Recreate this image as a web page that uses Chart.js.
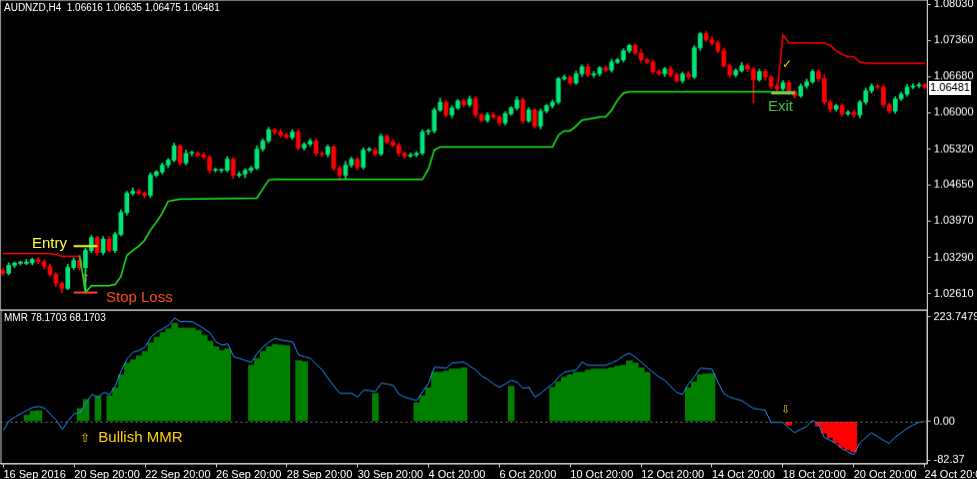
<!DOCTYPE html>
<html><head><meta charset="utf-8">
<script src="https://cdn.jsdelivr.net/npm/chart.js@4.4.1/dist/chart.umd.min.js"></script>
<style>
html,body{margin:0;padding:0;background:#000;width:977px;height:479px;overflow:hidden;font-family:"Liberation Sans",Arial,sans-serif;position:relative}
canvas{position:absolute;left:0}
.t{position:absolute;white-space:nowrap;line-height:1}
</style></head><body>
<canvas id="top" width="977" height="309" style="top:0"></canvas>
<canvas id="bot" width="977" height="170" style="top:309px"></canvas>
<div class="t" style="left:4px;top:3px;color:#fff;font-size:10px">AUDNZD,H4&nbsp; 1.06616 1.06635 1.06475 1.06481</div>
<div class="t" style="left:4px;top:313px;color:#fff;font-size:10px">MMR 78.1703 68.1703</div>
<div class="t" style="left:32px;top:235px;color:#ffff33;font-size:15px">Entry</div>
<div class="t" style="left:106px;top:289px;color:#ff4a1c;font-size:15px">Stop Loss</div>
<div class="t" style="left:80px;top:272px;color:#d4a017;font-size:12px">⇧</div>
<div class="t" style="left:768px;top:98px;color:#3fbf3f;font-size:15px">Exit</div>
<div class="t" style="left:782px;top:58px;color:#ffcc00;font-size:12px">✓</div>
<div class="t" style="left:80px;top:429px;color:#ffd000;font-size:15px"><span style="font-size:12px">⇧</span>&nbsp; Bullish MMR</div>
<div class="t" style="left:781px;top:404px;color:#e0d000;font-size:11px">⇩</div>
<div class="t" style="left:929px;top:81px;width:42px;height:13px;background:#fff;color:#000;font-size:11px;padding-top:1px;text-align:center;z-index:2">1.06481</div>
<script>
const close=[1.0299,1.0314,1.0318,1.0318,1.0319,1.0325,1.0321,1.0312,1.0297,1.0280,
1.0271,1.0310,1.0323,1.0310,1.0342,1.0366,1.0338,1.0363,1.0342,1.0372,
1.0413,1.0449,1.0453,1.0449,1.0445,1.0483,1.0489,1.0502,1.0511,1.0538,
1.0506,1.0524,1.0524,1.0521,1.0517,1.0492,1.0492,1.0492,1.0513,1.0483,
1.0485,1.0492,1.0496,1.0532,1.0547,1.0568,1.0564,1.0558,1.0554,1.0564,
1.0534,1.0541,1.0547,1.0524,1.0522,1.0536,1.0496,1.0483,1.0502,1.0513,
1.0498,1.0530,1.0530,1.0523,1.0556,1.0545,1.0539,1.0524,1.0519,1.0521,
1.0524,1.0564,1.0566,1.0605,1.0620,1.0596,1.0609,1.0622,1.0615,1.0626,
1.0596,1.0586,1.0596,1.0592,1.0581,1.0598,1.0609,1.0624,1.0585,1.0605,
1.0575,1.0603,1.0613,1.0620,1.0664,1.0667,1.0656,1.0673,1.0686,1.0671,
1.0673,1.0684,1.0680,1.0695,1.0699,1.0716,1.0726,1.0712,1.0699,1.0695,
1.0677,1.0673,1.0682,1.0671,1.0660,1.0673,1.0667,1.0722,1.0748,1.0737,
1.0731,1.0716,1.0688,1.0671,1.0679,1.0688,1.0682,1.0662,1.0677,1.0667,
1.0650,1.0645,1.0656,1.0639,1.0632,1.0650,1.0658,1.0677,1.0664,1.0620,
1.0607,1.0613,1.0598,1.0601,1.0596,1.0620,1.0641,1.0650,1.0648,1.0615,
1.0603,1.0626,1.0635,1.0648,1.0650,1.0652,1.0648];
const hiPips=[4,5,3,4,6,3,4,3,4,3, 3,6,5,6,4,4,3,5,6,4, 5,4,6,4,3,4,3,4,3,5, 2,6,4,3,5,3,4,3,5,3, 4,3,4,6,4,5,3,5,4,4, 5,3,4,5,3,4,3,4,7,4, 3,4,5,4,4,3,5,4,3,4, 3,4,3,4,8,3,4,3,4,5, 4,3,4,5,3,4,3,6,4,5, 3,4,3,4,3,4,3,5,4,5, 4,3,4,5,3,4,3,4,7,3, 4,4,3,5,4,3,4,4,3,5, 6,4,5,3,4,6,4,3,5,4, 3,5,4,4,3,4,5,4,4,7, 4,3,4,3,4,3,5,4,3,5, 3,4,3,5,4,4,3];
const loPips=[4,3,4,3,3,4,3,4,3,6, 8,3,4,5,48,4,5,4,3,4, 3,5,4,3,4,4,3,4,5,3, 4,4,5,4,3,5,3,4,3,6, 4,7,4,3,4,3,5,4,3,4, 4,4,3,5,4,5,4,10,6,4, 5,4,3,4,3,4,3,5,4,3, 4,3,5,4,3,4,5,3,4,4, 5,3,4,3,5,4,3,4,5,3, 4,5,3,4,4,3,4,3,5,4, 5,4,3,4,3,4,4,3,4,3, 4,3,5,4,3,4,4,3,5,3, 4,4,3,5,4,3,5,44,3,6, 5,4,3,5,4,3,4,3,5,4, 6,4,4,3,4,5,4,4,3,5, 4,4,3,4,3,3,3];
const upperLine=[1.0336,1.0336,1.0336,1.0336,1.0336,1.0336,1.0336,1.0336,1.0336,1.0334,1.0331,1.0331,1.0331,1.0331];
const upperLine2=[[131,1.0639],[132,1.0746],[133,1.0731],[134,1.0731],[135,1.0731],[136,1.0731],[137,1.0731],[138,1.0731],[139,1.0731],[140,1.0726],[141,1.0716],[142,1.0709],[143,1.0705],[144,1.0705],[145,1.0695],[146,1.0693],[147,1.0693],[148,1.0693],[149,1.0693],[150,1.0693],[151,1.0693],[152,1.0693],[153,1.0693],[154,1.0693],[155,1.0693],[156,1.0693]];
const lowerLine=[[13,1.0333],[14,1.0263],[15,1.0276],[16,1.0276],[17,1.0276],[18,1.0276],[19,1.0278],[20,1.0293],[21,1.0333],[22,1.0342],[23,1.0350],[24,1.0361],[25,1.0380],[26,1.0395],[27,1.0412],[28,1.0434],[29,1.0436],[30,1.0438],[43,1.0440],[44,1.0457],[45,1.0474],[46,1.0475],[71,1.0475],[72,1.0494],[73,1.0530],[74,1.0536],[93,1.0536],[94,1.0558],[95,1.0566],[96,1.0566],[97,1.0575],[98,1.0586],[99,1.0588],[100,1.0590],[101,1.0592],[102,1.0592],[103,1.0605],[104,1.0624],[105,1.0637],[106,1.0639],[134,1.0639]];
const mmrLine=[-19,2,10,17,24,30,32,28,15,2, -17,2,17,19,40,58,52,62,58,77, 110,135,148,152,159,181,191,198,206,221, 213,214,213,206,198,189,170,163,166,138, 135,130,127,146,160,170,178,174,172,170, 142,138,135,122,110,92,75,60,60,60, 52,67,66,64,82,80,77,58,52,48, 45,64,82,116,115,114,125,126,127,118, 110,97,90,80,73,80,88,84,71,73, 52,60,71,80,95,105,108,110,127,120, 120,120,120,125,131,140,146,138,127,116, 105,95,88,75,62,58,80,95,114,113, 112,84,60,52,48,45,36,28,26,24, -2,-2,-2,-14,-24,-17,-11,2,-4,-34, -40,-47,-58,-65,-71,-47,-35,-24,-32,-40, -47,-34,-25,-15,-8,-2,0];
const histBull=[[4,13],[5,22],[6,23],[13,28],[14,47],[16,54],[18,55],[19,72],[20,100],[21,125],[22,132],[23,140],[24,150],[25,168],[26,180],[27,190],[28,198],[29,210],[30,200],[31,200],[32,200],[33,195],[34,185],[35,172],[36,160],[37,152],[38,155],[42,120],[43,135],[44,150],[45,160],[46,165],[47,163],[48,162],[50,130],[51,128],[63,60],[70,40],[71,55],[72,72],[73,105],[74,105],[75,108],[76,112],[77,112],[78,115],[86,75],[93,73],[94,85],[95,95],[96,100],[97,105],[98,105],[99,110],[100,112],[101,112],[102,112],[103,115],[104,118],[105,120],[106,130],[107,125],[108,115],[109,105],[116,72],[117,85],[118,100],[119,102],[120,102]];
const histBear=[[133,-8],[138,-10],[139,-25],[140,-35],[141,-45],[142,-55],[143,-60],[144,-65]];
const dateLabels=["16 Sep 2016","20 Sep 20:00","22 Sep 20:00","26 Sep 20:00","28 Sep 20:00","30 Sep 20:00","4 Oct 20:00","6 Oct 20:00","10 Oct 20:00","12 Oct 20:00","14 Oct 20:00","18 Oct 20:00","20 Oct 20:00","24 Oct 20:00"];
const priceTicks=[1.08030,1.07360,1.06680,1.06000,1.05320,1.04650,1.03970,1.03290,1.02610];
const mmrTicks=[223.7479,0,-82.37];
const entryPrice=1.0350, stopPrice=1.0263, exitPrice=1.0639;

const N=close.length;
const labels=close.map((_,i)=>i);
const open=close.map((c,i)=>i?close[i-1]:1.0305);
const P=0.0001;
const bodies=close.map((c,i)=>[open[i],c]);
const wicks=close.map((c,i)=>[Math.min(open[i],c)-loPips[i]*P,Math.max(open[i],c)+hiPips[i]*P]);
const col=close.map((c,i)=>c>=open[i]?'#00e676':'#ff0000');
function sparse(pairs){const a=new Array(N).fill(null);pairs.forEach(([i,v])=>a[i]=v);return a;}
function flatFill(pairs){const a=new Array(N).fill(null);for(let k=0;k<pairs.length;k++){a[pairs[k][0]]=pairs[k][1];if(k<pairs.length-1&&pairs[k+1][1]===pairs[k][1]){for(let j=pairs[k][0];j<pairs[k+1][0];j++)a[j]=pairs[k][1];}}return a;}
const upper1=new Array(N).fill(null);upperLine.forEach((v,i)=>upper1[i]=v);
const up2=sparse(upperLine2);
const low=flatFill(lowerLine);
const tickFont={family:'"Liberation Sans",Arial,sans-serif',size:11};
Chart.defaults.animation=false;

const overlay={id:'ov',afterDatasetsDraw(ch){const c=ch.ctx,x=ch.scales.x,y=ch.scales.y,a=ch.chartArea;
 c.save();c.lineWidth=2;
 c.strokeStyle='#ffff33';c.beginPath();c.moveTo(x.getPixelForValue(12),y.getPixelForValue(entryPrice));c.lineTo(x.getPixelForValue(16),y.getPixelForValue(entryPrice));c.stroke();
 c.strokeStyle='#ff4a1c';c.beginPath();c.moveTo(x.getPixelForValue(12),y.getPixelForValue(stopPrice));c.lineTo(x.getPixelForValue(16),y.getPixelForValue(stopPrice));c.stroke();
 c.strokeStyle='#6fcf4f';c.lineWidth=3;c.beginPath();c.moveTo(x.getPixelForValue(130),y.getPixelForValue(exitPrice)+1);c.lineTo(x.getPixelForValue(134),y.getPixelForValue(exitPrice)+1);c.stroke();
 c.strokeStyle='#c8c8c8';c.lineWidth=1;c.strokeRect(a.left+0.5,a.top+0.5,a.right-a.left-1,a.bottom-a.top);
 c.restore();}};

const topChart=new Chart(document.getElementById('top'),{type:'bar',data:{labels,datasets:[
 {type:'line',data:upper1,borderColor:'#ff0000',borderWidth:1.5,pointRadius:0,spanGaps:false,order:0},
 {type:'line',data:up2,borderColor:'#ff0000',borderWidth:1.5,pointRadius:0,spanGaps:true,order:0},
 {type:'line',data:low,borderColor:'#22ee22',borderWidth:1.5,pointRadius:0,spanGaps:true,order:0},
 {data:wicks,backgroundColor:col,barThickness:1,grouped:false,order:2},
 {data:bodies,backgroundColor:col,barThickness:4,grouped:false,minBarLength:1,order:1}
]},options:{responsive:false,maintainAspectRatio:false,devicePixelRatio:1,layout:{padding:0},
 plugins:{legend:{display:false},tooltip:{enabled:false}},
 scales:{x:{display:false,offset:true},
 y:{position:'right',min:1.0231,max:1.0812,afterFit(s){s.width=50},
  afterBuildTicks(s){s.ticks=priceTicks.map(v=>({value:v}))},
  ticks:{color:'#fff',font:tickFont,padding:3,callback:v=>v.toFixed(5)},
  grid:{drawOnChartArea:false,color:'#c8c8c8',tickLength:3},border:{color:'#c8c8c8'}}}},plugins:[overlay]});

const hb=sparse(histBull), hr=sparse(histBear);
const frame={id:'fr',afterDatasetsDraw(ch){const c=ch.ctx,a=ch.chartArea,y=ch.scales.y;c.save();
 c.strokeStyle='#777';c.setLineDash([2,3]);c.beginPath();const z=Math.round(y.getPixelForValue(0))+0.5;c.moveTo(a.left,z);c.lineTo(a.right,z);c.stroke();
 c.setLineDash([]);c.strokeStyle='#c8c8c8';c.strokeRect(a.left+0.5,a.top+0.5,a.right-a.left-1,a.bottom-a.top);c.restore();}};
const botChart=new Chart(document.getElementById('bot'),{type:'bar',data:{labels,datasets:[
 {type:'line',data:mmrLine,borderColor:'#1e90ff',borderWidth:1,pointRadius:0,order:0},
 {data:hb,backgroundColor:'#008000',barPercentage:1,categoryPercentage:1,grouped:false,order:1},
 {data:hr,backgroundColor:'#ff0000',barPercentage:1,categoryPercentage:1,grouped:false,order:1}
]},options:{responsive:false,maintainAspectRatio:false,devicePixelRatio:1,layout:{padding:0},
 plugins:{legend:{display:false},tooltip:{enabled:false}},
 scales:{x:{offset:true,afterFit(s){s.height=16},
  ticks:{color:'#fff',font:tickFont,autoSkip:false,maxRotation:0,align:'start',padding:1,callback:(v,i)=>i%12===0?dateLabels[i/12]:''},
  grid:{drawOnChartArea:false,tickLength:4,offset:false,color:(c)=>c.index%12===0?'#c8c8c8':'rgba(0,0,0,0)'},border:{color:'#c8c8c8'}},
 y:{position:'right',min:-90,max:239,afterFit(s){s.width=50},
  afterBuildTicks(s){s.ticks=mmrTicks.map(v=>({value:v}))},
  ticks:{color:'#fff',font:tickFont,padding:3,callback:v=>v===0?'0.00':String(v)},
  grid:{drawOnChartArea:false,color:'#c8c8c8',tickLength:3},border:{color:'#c8c8c8'}}}},plugins:[frame]});

// place each chart area at its target box on the page
function place(ch,cv,L,T,R,B){
 for(let k=0;k<3;k++){
  const a=ch.chartArea,W=ch.width,H=ch.height;
  const padL=a.left,padT=a.top,padR=W-a.right,padB=H-a.bottom;
  const nW=(R-L)+padL+padR,nH=(B-T)+padT+padB;
  cv.style.left=(L-padL)+'px';cv.style.top=(T-padT)+'px';
  if(nW!==W||nH!==H){ch.resize(nW,nH);} else break;
 }
 const a=ch.chartArea;cv.style.left=(L-a.left)+'px';cv.style.top=(T-a.top)+'px';
}
place(topChart,document.getElementById('top'),0,0,927,309);
place(botChart,document.getElementById('bot'),0,310,927,463);
</script></body></html>
